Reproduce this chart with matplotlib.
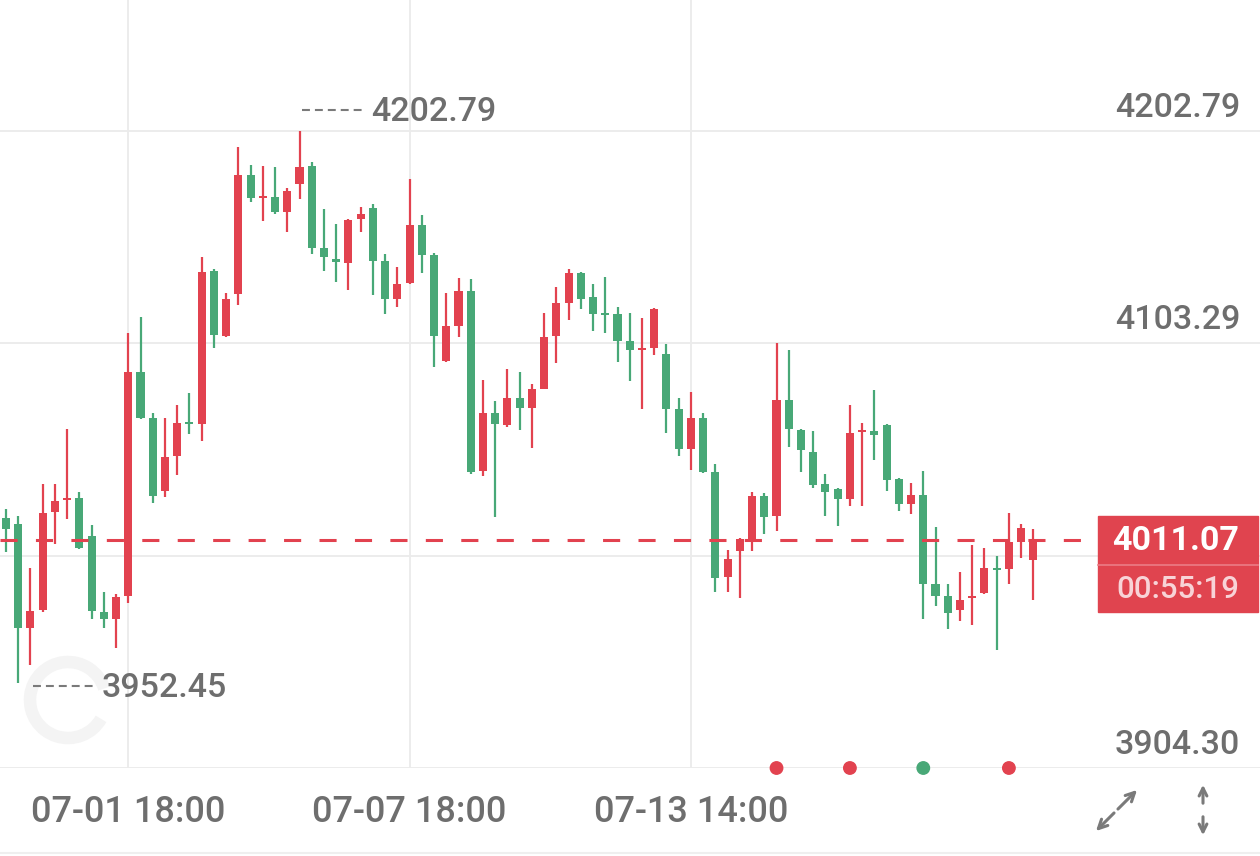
import numpy as np
import matplotlib
matplotlib.use("Agg")
import matplotlib.pyplot as plt
from matplotlib import transforms
from matplotlib.patches import Rectangle, Arc, FancyArrowPatch

# OHLC, one candle per bar
opens = [4021.4, 4018.5, 3969.9, 3978.3, 4024.4, 4030.0, 4030.8, 4013.1, 3977.6, 3974.1,
         3984.7, 4089.7, 4068.3, 4034.0, 4050.6, 4066.1, 4065.7, 4137.0, 4106.6, 4126.5,
         4182.2, 4171.4, 4171.7, 4164.8, 4178.0, 4186.4, 4147.9, 4143.0, 4140.9, 4161.6,
         4166.5, 4142.0, 4124.0, 4131.6, 4158.6, 4144.7, 4094.9, 4111.3, 4127.9, 4043.3,
         4070.8, 4064.9, 4077.9, 4072.8, 4082.1, 4106.6, 4122.0, 4136.3, 4124.8, 4117.2,
         4116.9, 4104.2, 4100.2, 4100.9, 4098.2, 4072.5, 4053.9, 4068.3, 4043.0, 3994.0,
         4005.8, 4010.9, 4031.7, 4022.2, 4076.7, 4062.7, 4052.2, 4037.4, 4034.9, 4030.3,
         4061.9, 4062.4, 4064.9, 4039.6, 4027.8, 4032.0, 3990.3, 3984.7, 3978.3, 3983.9,
         3986.1, 3997.9, 3997.7, 4010.4, 4001.9]
highs = [4025.6, 4022.4, 3998.2, 4037.6, 4037.4, 4063.2, 4033.7, 4018.2, 3986.9, 3985.6,
         4107.9, 4115.5, 4070.8, 4068.3, 4074.2, 4080.1, 4143.9, 4138.3, 4127.0, 4195.4,
         4186.9, 4186.4, 4186.1, 4176.3, 4202.79, 4188.1, 4166.2, 4159.4, 4161.6, 4167.4,
         4168.4, 4145.1, 4139.2, 4180.5, 4163.6, 4145.4, 4126.8, 4134.1, 4133.6, 4086.3,
         4076.2, 4091.4, 4089.7, 4084.3, 4117.7, 4129.5, 4138.0, 4136.6, 4131.1, 4134.6,
         4120.1, 4117.6, 4115.2, 4119.8, 4103.2, 4077.6, 4080.6, 4070.5, 4046.8, 4006.3,
         4012.1, 4033.7, 4033.3, 4103.3, 4100.3, 4063.2, 4062.0, 4042.1, 4035.4, 4074.2,
         4066.1, 4081.3, 4065.7, 4040.1, 4037.9, 4043.3, 4017.1, 3990.3, 3996.2, 4008.7,
         4007.2, 4003.8, 4023.9, 4018.8, 4016.3]
lows = [4005.3, 3944.2, 3952.45, 3977.6, 4009.2, 4021.0, 4007.0, 3974.3, 3970.0, 3960.6,
        3981.7, 4067.8, 4028.6, 4031.1, 4041.8, 4061.0, 4057.6, 4100.9, 4106.3, 4121.4,
        4169.5, 4160.6, 4164.0, 4155.5, 4170.7, 4145.1, 4137.0, 4131.9, 4128.5, 4155.5,
        4126.0, 4116.9, 4120.1, 4131.2, 4136.1, 4092.4, 4094.4, 4106.3, 4042.1, 4040.9,
        4021.9, 4064.1, 4062.7, 4054.4, 4081.8, 4094.1, 4114.4, 4119.3, 4109.1, 4108.3,
        4094.4, 4085.7, 4072.5, 4097.8, 4061.2, 4050.6, 4044.1, 4042.5, 3986.8, 3986.9,
        3983.9, 4006.2, 4013.9, 4015.5, 4054.8, 4043.0, 4035.7, 4022.4, 4017.6, 4026.9,
        4027.3, 4048.4, 4034.0, 4024.7, 4023.2, 3974.1, 3980.2, 3969.5, 3973.4, 3971.2,
        3985.6, 3959.8, 3990.3, 4002.8, 3983.0]
closes = [4016.5, 3969.9, 3978.0, 4023.9, 4029.5, 4030.8, 4007.5, 3978.0, 3974.1, 3984.4,
          4089.7, 4068.3, 4031.7, 4050.2, 4066.1, 4065.4, 4136.6, 4107.1, 4124.0, 4182.2,
          4171.2, 4171.7, 4164.8, 4174.6, 4185.9, 4148.1, 4143.7, 4141.2, 4161.1, 4164.0,
          4142.0, 4124.0, 4131.2, 4158.6, 4144.7, 4106.8, 4111.3, 4127.9, 4043.0, 4070.8,
          4065.7, 4077.6, 4072.8, 4081.8, 4106.3, 4122.0, 4136.3, 4124.0, 4117.2, 4116.7,
          4104.6, 4100.3, 4100.9, 4119.4, 4072.5, 4053.9, 4068.3, 4043.0, 3993.5, 4002.1,
          4011.7, 4031.7, 4021.9, 4076.7, 4063.2, 4053.1, 4037.0, 4033.7, 4030.3, 4061.5,
          4062.4, 4060.3, 4039.1, 4027.8, 4032.0, 3990.3, 3985.1, 3976.8, 3983.0, 3985.1,
          3998.2, 3997.2, 4010.1, 4016.8, 4011.07]

ytick_vals = [4202.79, 4103.29, 4003.79, 3904.30]
ytick_labels = ["4202.79", "4103.29", "4003.79", "3904.30"]
xtick_idx = [10, 33, 56]
xtick_labels = ["07-01 18:00", "07-07 18:00", "07-13 14:00"]

hi_mark = (24, "4202.79")
lo_mark = (2, "3952.45")
last_price = "4011.07"
countdown = "00:55:19"

signal_idx = [63, 69, 75, 82]
signal_up = [True, True, False, True]

RED = "#E2424F"
GREEN = "#48A877"
GRAY_TXT = "#6E6E6E"
GRID = "#EBEBEB"

plt.rcParams["font.family"] = ["Roboto", "DejaVu Sans"]

W, H = 1260, 856
fig = plt.figure(figsize=(W / 100, H / 100), dpi=100)
fig.patch.set_facecolor("white")
ax = fig.add_axes([0, 88 / H, 1, 768 / H])
ax.set_xlim(-0.49, 102.53)
ax.set_ylim(3904.30, 4264.17)
ax.axis("off")

o = np.array(opens); h = np.array(highs); l = np.array(lows); c = np.array(closes)
x = np.arange(len(o))
up = c >= o
cols = np.where(up, RED, GREEN)

# grid
for v in ytick_vals:
    ax.axhline(v, color=GRID, lw=1.3, zorder=0)
for i in xtick_idx:
    ax.axvline(i, color=GRID, lw=1.3, zorder=0)

# faint watermark ring
fig.patches.append(Arc((68 / W, 1 - 700 / H), 76 / W, 76 / H, theta1=25, theta2=320,
                       transform=fig.transFigure, color="#F4F4F4", lw=9, zorder=-1))

# candles
ax.vlines(x, l, h, colors=cols, lw=1.6, zorder=3)
body_bot = np.minimum(o, c)
body_h = np.maximum(np.abs(c - o), 0.9)
ax.bar(x, body_h, bottom=body_bot, width=0.66, color=cols, zorder=4, linewidth=0)

# last price dashed line, up to the price box
line_tr = transforms.blended_transform_factory(ax.transAxes, ax.transData)
ax.plot([0, 1098 / W], [float(last_price)] * 2, transform=line_tr, color=RED, lw=2.2,
        dashes=(5.6, 6.0), zorder=5)

# y labels (above their grid lines, right aligned)
lab_tr = transforms.offset_copy(ax.get_yaxis_transform(), fig=fig, y=23, units="dots")
for v, s in zip(ytick_vals, ytick_labels):
    ax.text(1240 / W, v, s, transform=lab_tr, ha="right", va="center",
            fontsize=24.5, color=GRAY_TXT, weight="medium", zorder=2)

# x labels
xlab_tr = ax.get_xaxis_transform()
for i, s in zip(xtick_idx, xtick_labels):
    ax.text(i, -44 / 768, s, transform=xlab_tr, ha="center", va="center",
            fontsize=26, color=GRAY_TXT, weight="medium", clip_on=False)

# high / low marks
def mark(idx, label, value, dy):
    tr = transforms.offset_copy(ax.transData, fig=fig, y=dy, units="dots")
    ax.plot([idx + 0.2, idx + 5.35], [value, value], transform=tr, color="#7A7A7A",
            lw=1.5, dashes=(3.8, 2.4), zorder=6)
    txt_tr = transforms.offset_copy(ax.transData, fig=fig, y=dy - 2, units="dots")
    ax.text(idx + 5.85, value, label, transform=txt_tr, ha="left", va="center",
            fontsize=24.5, color=GRAY_TXT, weight="medium", zorder=6)

mark(hi_mark[0], hi_mark[1], h[hi_mark[0]], 21)
mark(lo_mark[0], lo_mark[1], l[lo_mark[0]], -21)

# signal dots on the bottom axis
ax.scatter(signal_idx, [ytick_vals[-1]] * len(signal_idx), s=80,
           c=[RED if u else GREEN for u in signal_up], zorder=7, clip_on=False)

# price box
fig.patches.append(Rectangle((1098 / W, 1 - 612 / H), 160 / W, 96 / H,
                             transform=fig.transFigure, color="#E0444F", zorder=10))
fig.lines.append(plt.Line2D([1098 / W, 1258 / W], [1 - 565 / H] * 2,
                            transform=fig.transFigure, color="#EC7C86", lw=1.2, zorder=11))
fig.text(1239 / W, 1 - 541 / H, last_price, ha="right", va="center", fontsize=24.5,
         color="white", weight="bold", zorder=12)
fig.text(1239 / W, 1 - 590 / H, countdown, ha="right", va="center", fontsize=22.5,
         color="#F8D3D7", weight="medium", zorder=12)

# bottom separator
fig.lines.append(plt.Line2D([0, 1], [1 - 853 / H] * 2, transform=fig.transFigure,
                            color="#EFEFEF", lw=1.5))

# corner icons
def arrow(p0, p1, style, ms=14):
    fig.patches.append(FancyArrowPatch(
        (p0[0] / W, 1 - p0[1] / H), (p1[0] / W, 1 - p1[1] / H), transform=fig.transFigure,
        arrowstyle=style, mutation_scale=ms, color="#7A7A7A", lw=2.2))

arrow((1116, 811), (1139, 788), "->", 16)
arrow((1116, 811), (1094, 833), "->", 16)
arrow((1203, 806), (1203, 782), "->", 14)
arrow((1203, 814), (1203, 838), "->", 14)

fig.savefig("out.png", dpi=100, facecolor="white")
